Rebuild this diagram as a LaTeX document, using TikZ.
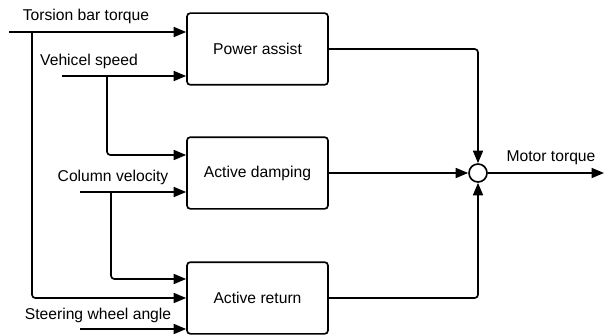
\documentclass[tikz,border=0pt]{standalone}
\usepackage{fontspec}
\setmainfont{Liberation Sans}
\usetikzlibrary{arrows.meta}
\begin{document}
\begin{tikzpicture}[
        x=0.6pt, y=-0.6pt,
        every node/.style={font=\fontsize{9.4}{11}\selectfont},
        block/.style={draw, rounded corners=2pt, minimum width=84.6pt, minimum height=43pt, line width=1pt},
        sumnode/.style={draw, circle, minimum size=10.8pt, inner sep=0pt, line width=1pt},
        lbl/.style={inner sep=0pt},
        sig/.style={draw, line width=1pt, rounded corners=2pt, -{Triangle[length=7.5pt,width=6pt]}}
    ]
        \useasboundingbox (0,0) rectangle (604,335);

        \node[block] (pa) at (257.5,49) {Power assist};
        \node[block] (ad) at (257.5,173) {Active damping};
        \node[block] (ar) at (257.5,298) {Active return};
        \node[sumnode] (sum) at (478,173) {};

        \coordinate (tbt) at (9,32);
        \coordinate (tbtb) at (32,32);
        \coordinate (vs) at (62,76);
        \coordinate (vsb) at (107,76);
        \coordinate (cv) at (80,192);
        \coordinate (cvb) at (111,192);
        \coordinate (swa) at (80,329);
        \coordinate (mt) at (604,173);

        % inputs
        \draw[sig] (tbt) -- (pa.west |- tbt);
        \draw[sig] (tbtb) |- (ar.west);
        \draw[sig] (vs) -- (pa.west |- vs);
        \draw[sig] (vsb) |- ([yshift=10.8pt]ad.west);
        \draw[sig] (cv) -- (ad.west |- cv);
        \draw[sig] (cvb) |- ([yshift=11.4pt]ar.west);
        \draw[sig] (swa) -- (ar.west |- swa);

        % outputs
        \draw[sig] (pa.east) -| (sum.north);
        \draw[sig] (ad.east) -- (sum.west);
        \draw[sig] (ar.east) -| (sum.south);
        \draw[sig] (sum.east) -- (mt);

        \node[lbl] (tbtlbl) at (86,16) {Torsion bar torque};
        \node[lbl] (vslbl) at (89,61) {Vehicel speed};
        \node[lbl] (cvlbl) at (113,177) {Column velocity};
        \node[lbl] (swalbl) at (98,315) {Steering wheel angle};
        \node[lbl] (mtlbl) at (551,158) {Motor torque};
    \end{tikzpicture}
\end{document}
